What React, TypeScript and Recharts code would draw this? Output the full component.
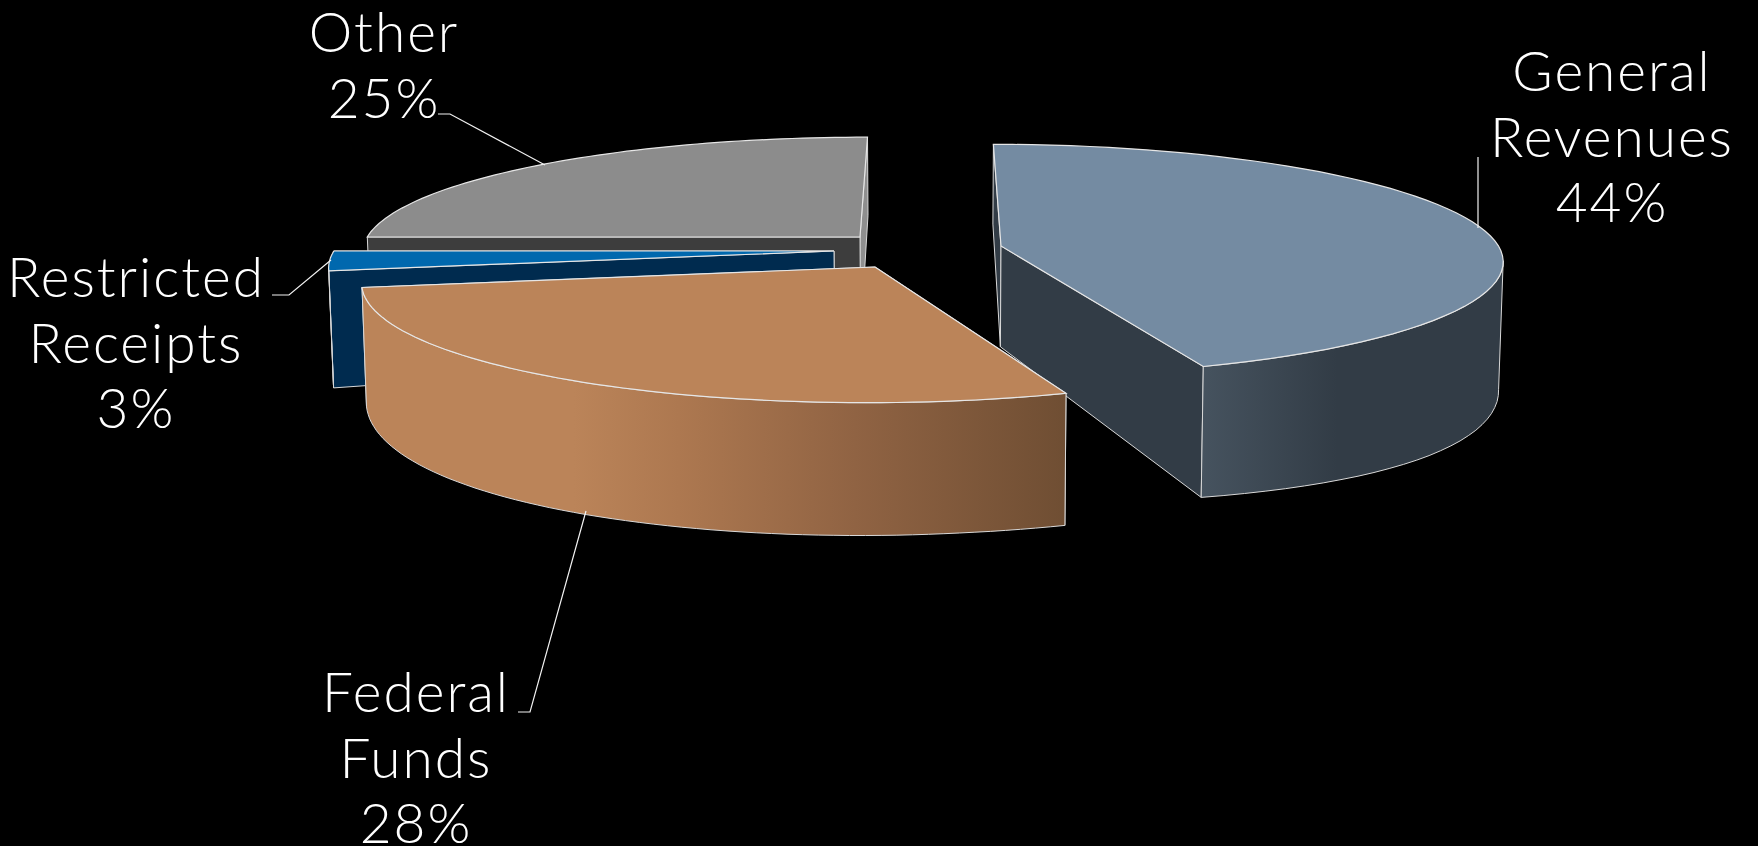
import { PieChart, Pie } from "recharts";

const SLICE_NAMES = ["Other", "General Revenues", "Federal Funds", "Restricted Receipts"];
const SLICE_SHARES = [25, 44.4, 27.9, 2.7];

const data = SLICE_NAMES.map((name, i) => ({ name, value: SLICE_SHARES[i] }));

// ground plane perspective, fitted on the slice corners
const VANISH_X = 930;
const HORIZON_Y = -700;
const PLANE_K = 947;
const TILT = 0.000242;
const BOTTOM_SHRINK = 0.992;

type Style = {
  anchor: [number, number];
  top: string;
  rim: string;
  wall: string;
  lastWall?: string;
  back: boolean;
  text: [number, number];
  leader: [number, number][];
};

const STYLES: Record<string, Style> = {
  Other: {
    anchor: [860, 237],
    top: "#8c8c8c",
    rim: "#3d3d3d",
    wall: "#3d3d3d",
    lastWall: "#8f8f8f",
    back: true,
    text: [384, 52],
    leader: [[545, 165], [450, 114], [438, 114]],
  },
  "General Revenues": {
    anchor: [1001, 246],
    top: "#748ba2",
    rim: "url(#rimGeneral)",
    wall: "#323c46",
    back: false,
    text: [1612, 91],
    leader: [[1478, 228], [1478, 157]],
  },
  "Federal Funds": {
    anchor: [875, 267],
    top: "#bb8459",
    rim: "url(#rimFederal)",
    wall: "#6f4e33",
    back: false,
    text: [416, 712],
    leader: [[586, 511], [530, 712], [518, 712]],
  },
  "Restricted Receipts": {
    anchor: [834, 251],
    top: "#0068ae",
    rim: "#002b4f",
    wall: "#002b4f",
    back: true,
    text: [136, 297],
    leader: [[331, 260], [289, 295], [272, 295]],
  },
};

const project = (X: number, Z: number): [number, number] => {
  const s = 1 / (1 - TILT * Z);
  return [VANISH_X + X * s, HORIZON_Y + PLANE_K * s];
};

const toPlane = (x: number, y: number): [number, number] => {
  const s = (y - HORIZON_Y) / PLANE_K;
  return [(x - VANISH_X) / s, (1 - 1 / s) / TILT];
};

// wall height seen on screen, a bit taller to the sides and to the front
const depthAt = ([x, y]: [number, number]) => {
  const dx = x - VANISH_X;
  return 49.7 + 0.206 * y + (dx > 0 ? 7.6e-5 : 3.2e-5) * dx * dx;
};

const down = (p: [number, number]): [number, number] => [
  VANISH_X + (p[0] - VANISH_X) * BOTTOM_SHRINK,
  p[1] + depthAt(p),
];

const toPath = (pts: [number, number][]) =>
  "M" + pts.map((p) => `${p[0].toFixed(1)},${p[1].toFixed(1)}`).join("L") + "Z";

const EDGE = "#d8d8d8";

function Slice(props: any, back: boolean) {
  const { name, startAngle, endAngle, outerRadius } = props;
  const style = STYLES[name];
  if (!style || style.back !== back) return <g />;

  const [X0, Z0] = toPlane(style.anchor[0], style.anchor[1]);
  const at = (angle: number) => {
    const rad = ((90 - angle) * Math.PI) / 180;
    return project(X0 + outerRadius * Math.sin(rad), Z0 - outerRadius * Math.cos(rad));
  };

  const steps = 64;
  const arc: [number, number][] = [];
  for (let i = 0; i <= steps; i++) {
    arc.push(at(startAngle + ((endAngle - startAngle) * i) / steps));
  }
  const center = project(X0, Z0);
  const first = arc[0];
  const last = arc[steps];

  // going clockwise, the part of the rim facing us runs right to left
  const front = arc.filter((p, i) => (i < steps ? arc[i + 1][0] < p[0] : arc[i - 1][0] > p[0]));

  const walls = [
    { d: toPath([center, first, down(first), down(center)]), y: first[1], fill: style.wall },
    { d: toPath([center, last, down(last), down(center)]), y: last[1], fill: style.lastWall ?? style.wall },
  ].sort((a, b) => a.y - b.y);

  return (
    <g>
      {walls.map((w, i) => (
        <path key={i} d={w.d} fill={w.fill} stroke={EDGE} strokeWidth={1} />
      ))}
      {front.length > 1 && (
        <path
          d={toPath([...front, ...front.map(down).reverse()])}
          fill={style.rim}
          stroke={EDGE}
          strokeWidth={1}
        />
      )}
      <path d={toPath([center, ...arc])} fill={style.top} stroke="#e6e6e6" strokeWidth={1.2} />
    </g>
  );
}

function SliceLabel(props: any) {
  const { name, value } = props;
  const style = STYLES[name];
  if (!style) return <g />;
  const lines = [...name.split(" "), `${Math.round(value)}%`];
  return (
    <g>
      <polyline
        points={style.leader.map((p) => p.join(",")).join(" ")}
        fill="none"
        stroke="#f2f2f2"
        strokeWidth={1.2}
      />
      <text
        textAnchor="middle"
        fill="#fff"
        stroke="none"
        fontFamily="Lato, 'Open Sans', sans-serif"
        fontWeight={300}
        fontSize={55}
        letterSpacing={2}
      >
        {lines.map((line: string, i: number) => (
          <tspan key={i} x={style.text[0]} y={style.text[1] + i * 65.5}>
            {line}
          </tspan>
        ))}
      </text>
    </g>
  );
}

export default function App() {
  return (
    <div style={{ position: "absolute", left: 0, top: 0, width: 1758, height: 846, background: "#000", overflow: "hidden" }}>
      <PieChart width={1758} height={846} margin={{ top: 0, right: 0, bottom: 0, left: 0 }}>
        <defs>
          <linearGradient id="rimGeneral" x1="0" x2="1" y1="0" y2="0">
            <stop offset="0" stopColor="#46535f" />
            <stop offset="0.45" stopColor="#323c46" />
          </linearGradient>
          <linearGradient id="rimFederal" x1="0" x2="1" y1="0" y2="0">
            <stop offset="0.3" stopColor="#bb8459" />
            <stop offset="0.45" stopColor="#ad7850" />
            <stop offset="0.7" stopColor="#906343" />
            <stop offset="1" stopColor="#6f4e33" />
          </linearGradient>
        </defs>
        <Pie
          data={data}
          dataKey="value"
          nameKey="name"
          cx={879}
          cy={423}
          outerRadius={498}
          startAngle={180}
          endAngle={-180}
          stroke="none"
          shape={(p: any) => Slice(p, true)}
          isAnimationActive={false}
        />
        <Pie
          data={data}
          dataKey="value"
          nameKey="name"
          cx={879}
          cy={423}
          outerRadius={498}
          startAngle={180}
          endAngle={-180}
          stroke="none"
          shape={(p: any) => Slice(p, false)}
          label={SliceLabel}
          labelLine={false}
          isAnimationActive={false}
        />
      </PieChart>
    </div>
  );
}
